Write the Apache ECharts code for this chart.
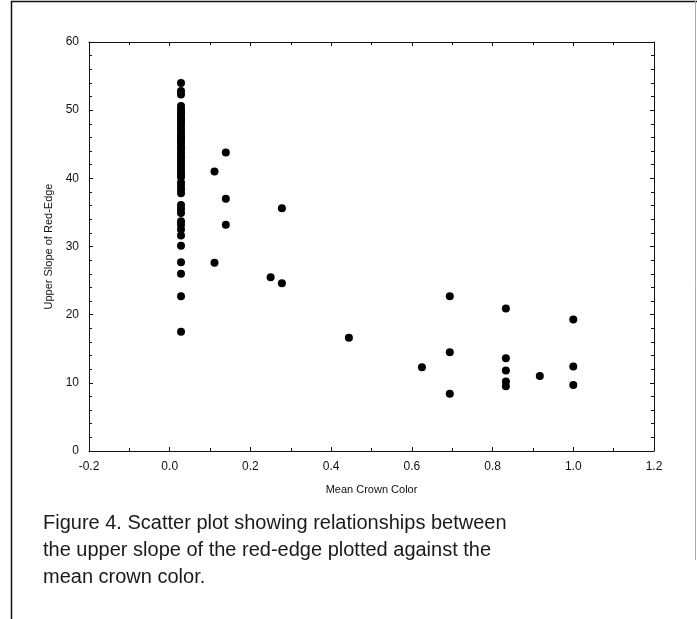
<!DOCTYPE html>
<html>
<head>
<meta charset="utf-8">
<script src="https://cdn.jsdelivr.net/npm/echarts@6/dist/echarts.min.js"></script>
<style>
html,body{margin:0;padding:0;background:#fff;}
#main{width:697px;height:619px;}
</style>
</head>
<body>
<div id="main"></div>
<script>
// tick labels
var xTicks = [-0.2, 0.0, 0.2, 0.4, 0.6, 0.8, 1.0, 1.2];
var yTicks = [0, 10, 20, 30, 40, 50, 60];

// mean crown color (x) for each tree
var crownColor = [
    0.028, 0.028, 0.028, 0.028, 0.028, 0.028, 0.028, 0.028, 0.028, 0.028,
    0.028, 0.028, 0.028, 0.028, 0.028, 0.028, 0.028, 0.028, 0.028, 0.028,
    0.028, 0.028, 0.028, 0.028, 0.028, 0.028, 0.028, 0.028, 0.028, 0.028,
    0.028, 0.028, 0.028, 0.028, 0.028, 0.028, 0.028, 0.028, 0.028, 0.028,
    0.028, 0.028, 0.028, 0.028, 0.028,
    0.111, 0.111, 0.139, 0.139, 0.139,
    0.250, 0.278, 0.278,
    0.444, 0.625,
    0.694, 0.694, 0.694,
    0.833, 0.833, 0.833, 0.833, 0.833,
    0.917,
    1.000, 1.000, 1.000
];
// upper slope of red-edge (y) for each tree
var upperSlope = [
    54.0, 52.8, 52.3, 50.6, 50.1, 49.7, 49.2, 48.8, 48.3, 47.9,
    47.4, 47.0, 46.5, 46.1, 45.6, 45.2, 44.7, 44.3, 43.8, 43.3,
    42.9, 42.4, 42.0, 41.5, 41.0, 40.6, 40.2, 38.9, 38.4, 37.8,
    36.1, 35.5, 34.9, 33.7, 33.2, 32.5, 31.6, 30.1, 27.7, 26.0,
    22.7, 17.5, 39.4, 45.9, 48.6,
    41.0, 27.6, 43.8, 37.0, 33.2,
    25.5, 35.6, 24.6,
    16.6, 12.3,
    22.7, 14.5, 8.4,
    20.9, 13.6, 11.8, 10.2, 9.5,
    11.0,
    19.3, 12.4, 9.7
];

var captionLines = [
    "Figure 4. Scatter plot showing relationships between",
    "the upper slope of the red-edge plotted against the",
    "mean crown color."
];

var points = [];
for (var i = 0; i < crownColor.length; i++) {
    points.push([crownColor[i], upperSlope[i]]);
}

var labelFont = {color: "#111", fontSize: 12, fontFamily: "Liberation Sans Narrow, Liberation Sans, Arial"};
var axisLine = {onZero: false, lineStyle: {color: "#111", width: 1}};

function xAxisDef(pos, labels) {
    return {
        type: "value", position: pos, min: xTicks[0], max: xTicks[xTicks.length - 1], interval: 0.2,
        axisLine: axisLine, splitLine: {show: false},
        axisTick: {show: true, inside: true, length: 4, lineStyle: {color: "#111"}},
        minorTick: {show: true, splitNumber: 2, length: 3, lineStyle: {color: "#111"}},
        axisLabel: {show: labels, margin: 10, formatter: function (v) { return v.toFixed(1); }, color: labelFont.color, fontSize: labelFont.fontSize, fontFamily: labelFont.fontFamily},
        name: labels ? "Mean Crown Color" : "", nameLocation: "middle", nameGap: 33,
        nameTextStyle: {color: "#111", fontSize: 11, fontFamily: labelFont.fontFamily}
    };
}
function yAxisDef(pos, labels) {
    return {
        type: "value", position: pos, min: yTicks[0], max: yTicks[yTicks.length - 1], interval: 10,
        axisLine: axisLine, splitLine: {show: false},
        axisTick: {show: true, inside: true, length: 4, lineStyle: {color: "#111"}},
        minorTick: {show: true, splitNumber: 5, length: 3, lineStyle: {color: "#111"}},
        axisLabel: {show: labels, margin: 10, color: labelFont.color, fontSize: labelFont.fontSize, fontFamily: labelFont.fontFamily},
        name: labels ? "Upper Slope of Red-Edge" : "", nameLocation: "middle", nameGap: 33,
        nameTextStyle: {color: "#111", fontSize: 11, fontFamily: labelFont.fontFamily}
    };
}

var graphics = [
    {type: "line", shape: {x1: 11, y1: 1.5, x2: 697, y2: 1.5}, style: {stroke: "#111", lineWidth: 1.5}},
    {type: "line", shape: {x1: 11.5, y1: 1, x2: 11.5, y2: 619}, style: {stroke: "#111", lineWidth: 1.5}},
    {type: "line", shape: {x1: 695.5, y1: 1, x2: 695.5, y2: 560}, style: {stroke: "#aaa", lineWidth: 1}}
];
for (var k = 0; k < captionLines.length; k++) {
    graphics.push({
        type: "text", left: 43, top: 513 + k * 27,
        style: {text: captionLines[k], fill: "#1a1a1a", font: "20px Liberation Sans, Arial"}
    });
}

var myChart = echarts.init(document.getElementById("main"));
var option = {
    backgroundColor: "#fff",
    animation: false,
    grid: {left: 89, right: 43, top: 42, bottom: 168},
    xAxis: [xAxisDef("bottom", true), xAxisDef("top", false)],
    yAxis: [yAxisDef("left", true), yAxisDef("right", false)],
    graphic: graphics,
    series: [{
        type: "scatter",
        data: points,
        symbol: "circle",
        symbolSize: 8,
        itemStyle: {color: "#000", opacity: 1}
    }]
};
myChart.setOption(option);
window.onresize = myChart.resize;
</script>
</body>
</html>
